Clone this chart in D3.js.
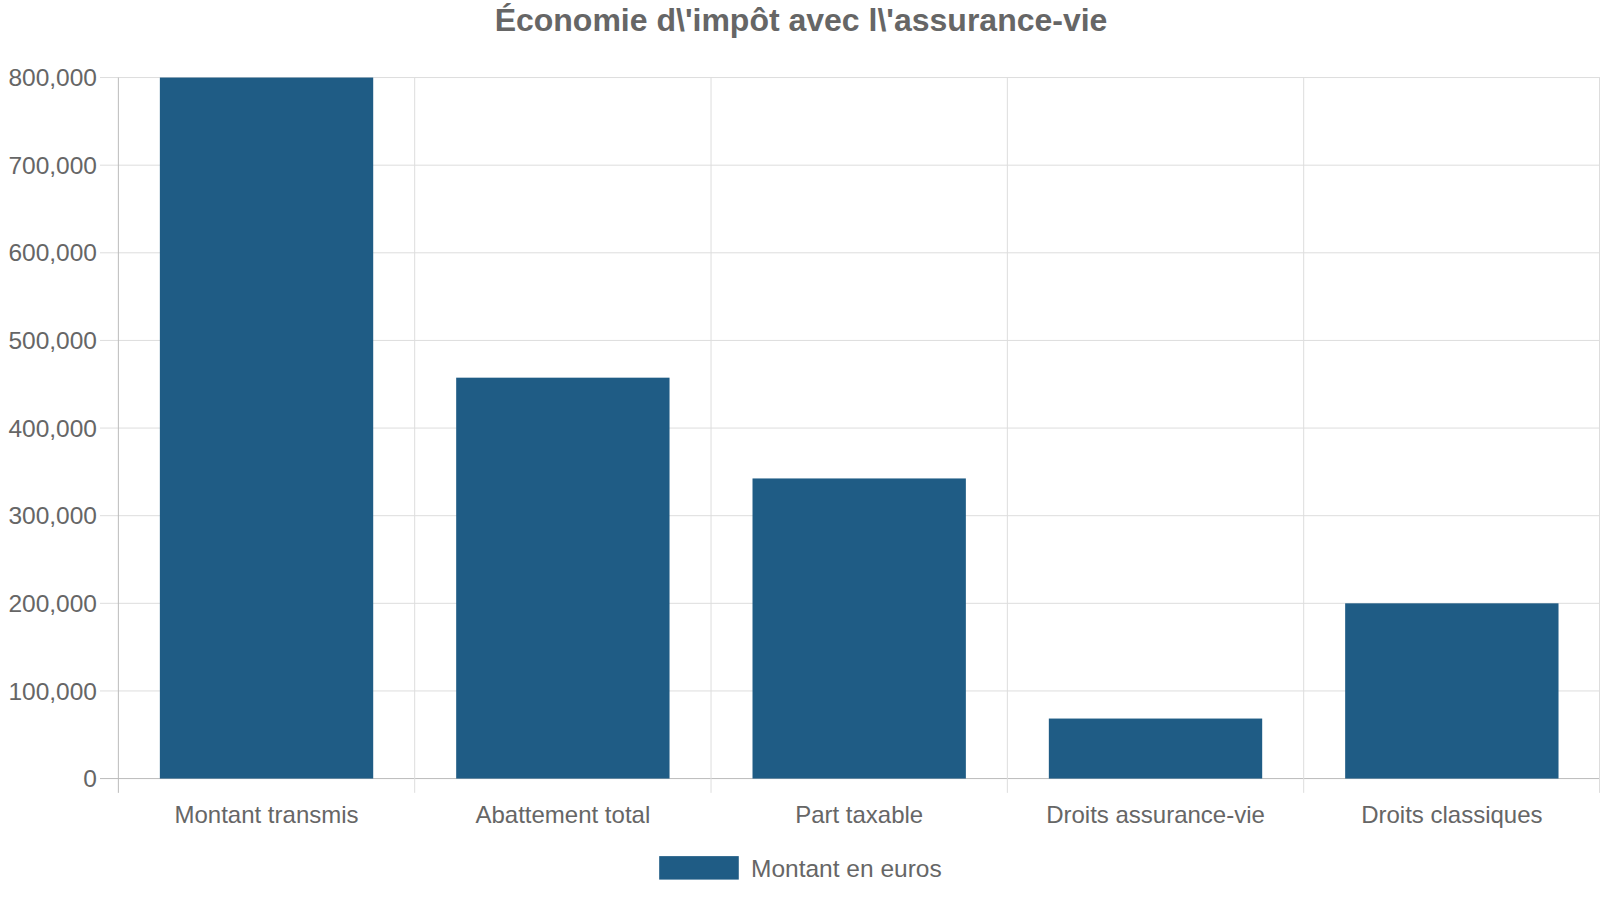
<!DOCTYPE html>
<html><head><meta charset="utf-8">
<script src="https://cdn.jsdelivr.net/npm/d3@7"></script>
<style>body{margin:0;background:#fff}svg{display:block;font-family:"Liberation Sans",Arial,sans-serif}</style>
</head><body><svg id="c" width="1600" height="900"></svg>
<script>
const categories = ["Montant transmis","Abattement total","Part taxable","Droits assurance-vie","Droits classiques"];
const values = [800000, 457500, 342500, 68500, 200000];
const yTicks = [0,100000,200000,300000,400000,500000,600000,700000,800000];
const seriesName = "Montant en euros";
const title = "Économie d\\'impôt avec l\\'assurance-vie";

const svg = d3.select("#c");
const k=1600/1568;
const L=116*k,R=1600,T=76*k,B=763*k,col="#1f5c85",txt="#666";
const x = d3.scaleBand().domain(categories).range([L,R]);
const y = d3.scaleLinear().domain([0,800000]).range([B,T]);
const fmt = d3.format(",");

svg.append("text").attr("x",785*k).attr("y",30*k).attr("text-anchor","middle")
  .attr("font-size",32).attr("font-weight","bold").attr("fill",txt).text(title);

const g = svg.append("g");
yTicks.forEach(t=>{
  g.append("line").attr("x1",L-18*k).attr("x2",R).attr("y1",y(t)).attr("y2",y(t))
   .attr("stroke",t===0?"#bbb":"#ddd").attr("stroke-width",1);
  g.append("text").attr("x",L-21*k).attr("y",y(t)).attr("dy","0.35em").attr("text-anchor","end")
   .attr("font-size",24.5).attr("fill",txt).text(fmt(t));
});
const bounds = categories.map(c=>x(c)).concat([R-0.5]);
bounds.forEach((b,i)=>{
  g.append("line").attr("x1",b).attr("x2",b).attr("y1",T).attr("y2",B+14*k)
   .attr("stroke",i===0?"#bbb":"#ddd");
});

const bw = x.bandwidth()*0.72;
g.selectAll("rect.bar").data(values).join("rect").attr("class","bar")
  .attr("x",(d,i)=>x(categories[i])+(x.bandwidth()-bw)/2).attr("width",bw)
  .attr("y",d=>y(d)).attr("height",d=>B-y(d)).attr("fill",col);

categories.forEach(c=>{
  g.append("text").attr("x",x(c)+x.bandwidth()/2).attr("y",807*k).attr("text-anchor","middle")
   .attr("font-size",24).attr("fill",txt).text(c);
});

svg.append("rect").attr("x",646*k).attr("y",839*k).attr("width",78*k).attr("height",23*k).attr("fill",col);
svg.append("text").attr("x",736*k).attr("y",851*k).attr("dy","0.35em").attr("font-size",24.5).attr("fill",txt).text(seriesName);
</script></body></html>
